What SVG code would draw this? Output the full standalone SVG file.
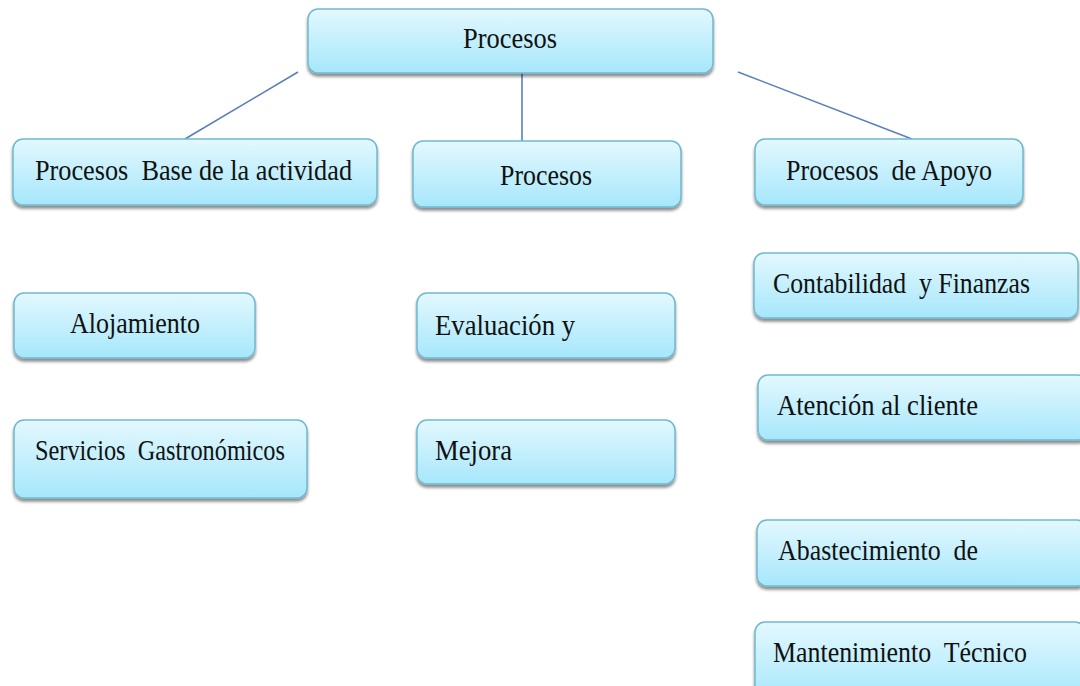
<svg xmlns="http://www.w3.org/2000/svg" width="1080" height="686" viewBox="0 0 1080 686">
<defs>
<linearGradient id="g" x1="0" y1="0" x2="0" y2="1">
<stop offset="0" stop-color="#e3f8fe"/>
<stop offset="1" stop-color="#a6e7fb"/>
</linearGradient>
<filter id="sh" x="-10%" y="-20%" width="120%" height="150%">
<feGaussianBlur in="SourceAlpha" stdDeviation="1.5"/>
<feOffset dx="0" dy="3" result="b"/>
<feComponentTransfer><feFuncA type="linear" slope="0.45"/></feComponentTransfer>
<feMerge><feMergeNode/><feMergeNode in="SourceGraphic"/></feMerge>
</filter>
</defs>
<style>
.box{fill:url(#g);stroke:#6fb9cf;stroke-width:1.5;filter:url(#sh)}
.t{font-family:"Liberation Serif","Times New Roman",serif;font-size:30px;fill:#111111;white-space:pre}
.c{stroke:#5a7fbf;stroke-width:1.6;fill:none}
</style>
<rect width="1080" height="686" fill="#ffffff"/>
<g id="connectors">
<line class="c" x1="522" y1="73" x2="522" y2="141"/>
<line class="c" x1="298" y1="72" x2="185" y2="139"/>
<line class="c" x1="738" y1="72" x2="912" y2="139"/>
</g>
<g id="n-procesos-top"><rect class="box" x="308" y="9" width="405" height="64" rx="10"/><text class="t" x="463" y="48" textLength="94" lengthAdjust="spacingAndGlyphs">Procesos</text></g>
<g id="n-base"><rect class="box" x="13" y="139" width="364" height="66" rx="10"/><text class="t" x="35" y="180" textLength="317" lengthAdjust="spacingAndGlyphs">Procesos  Base de la actividad</text></g>
<g id="n-procesos-mid"><rect class="box" x="413" y="141" width="268" height="66" rx="10"/><text class="t" x="500" y="185" textLength="92" lengthAdjust="spacingAndGlyphs">Procesos</text></g>
<g id="n-apoyo"><rect class="box" x="755" y="139" width="268" height="66" rx="10"/><text class="t" x="786" y="180" textLength="206" lengthAdjust="spacingAndGlyphs">Procesos  de Apoyo</text></g>
<g id="n-alojamiento"><rect class="box" x="14" y="293" width="241" height="65" rx="10"/><text class="t" x="70" y="333" textLength="130" lengthAdjust="spacingAndGlyphs">Alojamiento</text></g>
<g id="n-servicios"><rect class="box" x="14" y="420" width="293" height="78" rx="10"/><text class="t" x="35" y="460" textLength="250" lengthAdjust="spacingAndGlyphs">Servicios  Gastronómicos</text></g>
<g id="n-evaluacion"><rect class="box" x="417" y="293" width="258" height="65" rx="10"/><text class="t" x="435" y="335" textLength="140" lengthAdjust="spacingAndGlyphs">Evaluación y</text></g>
<g id="n-mejora"><rect class="box" x="417" y="420" width="258" height="64" rx="10"/><text class="t" x="435" y="460" textLength="77" lengthAdjust="spacingAndGlyphs">Mejora</text></g>
<g id="n-contabilidad"><rect class="box" x="754" y="253" width="324" height="65" rx="10"/><text class="t" x="773" y="293" textLength="257" lengthAdjust="spacingAndGlyphs">Contabilidad  y Finanzas</text></g>
<g id="n-atencion"><rect class="box" x="758" y="375" width="330" height="65" rx="10"/><text class="t" x="777" y="415" textLength="201" lengthAdjust="spacingAndGlyphs">Atención al cliente</text></g>
<g id="n-abastecimiento"><rect class="box" x="757" y="520" width="330" height="66" rx="10"/><text class="t" x="778" y="560" textLength="200" lengthAdjust="spacingAndGlyphs">Abastecimiento  de</text></g>
<g id="n-mantenimiento"><rect class="box" x="755" y="622" width="330" height="80" rx="10"/><text class="t" x="773" y="662" textLength="254" lengthAdjust="spacingAndGlyphs">Mantenimiento  Técnico</text></g>
</svg>
